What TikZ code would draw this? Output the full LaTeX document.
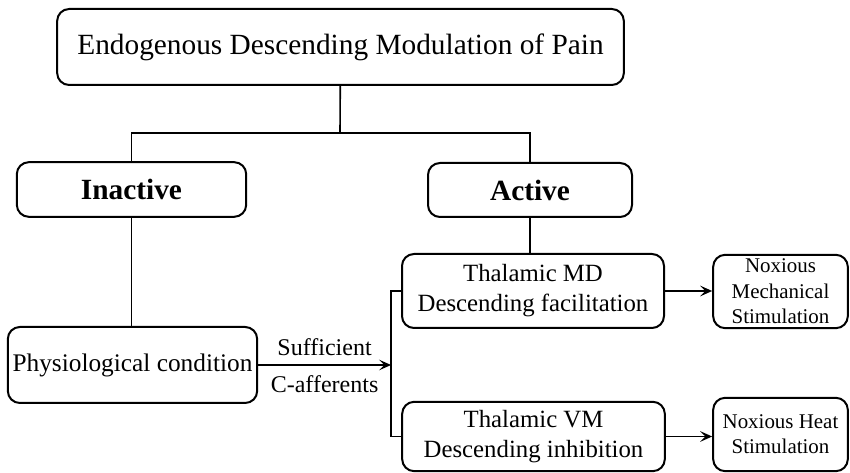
\documentclass[tikz,border=0pt]{standalone}
\usepackage{fontspec}
\setmainfont{Liberation Serif}
\usetikzlibrary{arrows.meta}

\begin{document}
\begin{tikzpicture}[x=0.75pt,y=-0.75pt,
    box/.style={draw,line width=1.5pt,rounded corners=9pt,align=center,inner sep=0pt},
    link/.style={line width=1.2pt},
    arr/.style={link,-{Stealth[length=9pt,width=8pt,inset=4pt]}}]
  \useasboundingbox (0,0) rectangle (850,473);
  \node[box,minimum width=425pt,minimum height=57pt,font=\fontsize{22}{26}\selectfont] (top) at (340.5,47) {Endogenous Descending Modulation of Pain};
  \node[box,minimum width=172pt,minimum height=41pt,font=\fontsize{22}{26}\selectfont\bfseries] (inactive) at (131.5,189.5) {Inactive};
  \node[box,minimum width=153pt,minimum height=40.5pt,font=\fontsize{22}{26}\selectfont\bfseries] (active) at (530,190) {Active};
  \node[box,minimum width=187pt,minimum height=57pt,font=\fontsize{19}{23}\selectfont] (phys) at (132.5,365) {Physiological condition};
  \node[box,minimum width=196.5pt,minimum height=55.5pt,font=\fontsize{18.6}{22.5}\selectfont] (md) at (533,291) {Thalamic MD\\Descending facilitation};
  \node[box,minimum width=197pt,minimum height=52pt,font=\fontsize{18.6}{22.5}\selectfont] (vm) at (533.5,436.5) {Thalamic VM\\Descending inhibition};
  \node[box,minimum width=101pt,minimum height=55pt,font=\fontsize{15.7}{19}\selectfont] (mech) at (780.5,291.5) {Noxious\\Mechanical\\Stimulation};
  \node[box,minimum width=101pt,minimum height=55pt,font=\fontsize{15.7}{19}\selectfont] (heat) at (780.5,434.5) {Noxious Heat\\Stimulation};

  \coordinate (split) at (340,133);
  \coordinate (bus) at (391,365);
  \draw[link] (top) -- (split);
  \draw[link] (inactive) |- (split) -| (active);
  \draw[link] (inactive.south) -- (inactive.south |- phys.north);
  \draw[link] (active.south) -- (active.south |- md.north);
  \draw[arr] (phys) -- (bus)
    node[midway,above=6.5pt,inner sep=0pt,font=\fontsize{18}{22}\selectfont] {Sufficient}
    node[midway,below=7pt,inner sep=0pt,font=\fontsize{18}{22}\selectfont] {C-afferents};
  \draw[link] (md.west) -- (md.west -| bus) -- (vm.west -| bus) -- (vm.west);
  \draw[arr] (md.east) -- (md.east -| mech.west);
  \draw[arr] (vm.east) -- (vm.east -| heat.west);
\end{tikzpicture}
\end{document}
